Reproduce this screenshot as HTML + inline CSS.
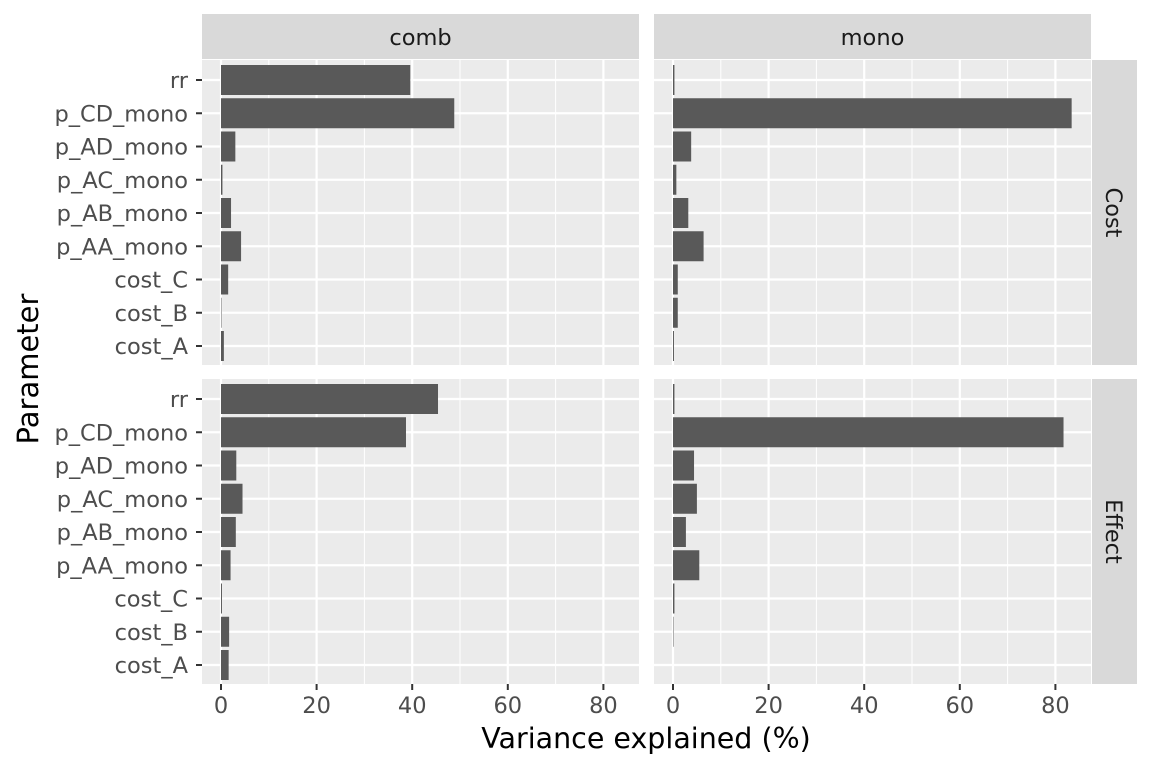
<!DOCTYPE html>
<html><head><meta charset="utf-8"><style>body{margin:0;background:#fff}svg{font-family:"DejaVu Sans","Liberation Sans",sans-serif}</style></head>
<body>
<svg id="c" width="1152" height="768" xmlns="http://www.w3.org/2000/svg"></svg>
<script>
const categories=["rr","p_CD_mono","p_AD_mono","p_AC_mono","p_AB_mono","p_AA_mono","cost_C","cost_B","cost_A"];
const colFacets=["comb","mono"];
const rowFacets=["Cost","Effect"];
const combCost=[39.6,48.8,3.0,0.3,2.1,4.2,1.5,0.1,0.6];
const monoCost=[0.3,83.4,3.8,0.7,3.2,6.4,1.0,1.0,0.2];
const combEffect=[45.4,38.7,3.2,4.5,3.1,2.0,0.2,1.7,1.6];
const monoEffect=[0.3,81.7,4.4,5.0,2.7,5.5,0.3,0.1,0.0];
const xTicks=[0,20,40,60,80];
const data=[[combCost,monoCost],[combEffect,monoEffect]];
const NS="http://www.w3.org/2000/svg",svg=document.getElementById('c');
function el(t,a,p){const e=document.createElementNS(NS,t);for(const k in a)e.setAttribute(k,a[k]);(p||svg).appendChild(e);return e;}
const panelX=[202,654],panelW=437,panelY=[60,379],panelH=305;
function xs(c,v){return panelX[c]+19+v*4.78;}
function ys(r,i){return panelY[r]+20+i*33.25;}
for(let c=0;c<2;c++){
 const s=el('rect',{x:panelX[c],y:14,width:panelW,height:45,fill:'#d9d9d9'});
 
 const t=el('text',{x:panelX[c]+panelW/2,y:45,'text-anchor':'middle','font-size':22.5,fill:'#1a1a1a'});t.textContent=colFacets[c];
 
 for(let r=0;r<2;r++){
  const p=el('rect',{x:panelX[c],y:panelY[r],width:panelW,height:panelH,fill:'#ebebeb'});
  
  for(let k=0;k<xTicks.length-1;k++){const m=(xTicks[k]+xTicks[k+1])/2;el('line',{x1:xs(c,m),x2:xs(c,m),y1:panelY[r],y2:panelY[r]+panelH,stroke:'#fff','stroke-width':1});}
  xTicks.forEach(v=>el('line',{x1:xs(c,v),x2:xs(c,v),y1:panelY[r],y2:panelY[r]+panelH,stroke:'#fff','stroke-width':2.2}));
  categories.forEach((n,i)=>el('line',{x1:panelX[c],x2:panelX[c]+panelW,y1:ys(r,i),y2:ys(r,i),stroke:'#fff','stroke-width':2.2}));
  data[r][c].forEach((v,i)=>{const b=el('rect',{x:xs(c,0),y:ys(r,i)-15,width:Math.max(0,xs(c,v)-xs(c,0)),height:30,fill:'#595959'});
   });
 }
 xTicks.forEach(v=>{el('line',{x1:xs(c,v),x2:xs(c,v),y1:684,y2:690,stroke:'#333','stroke-width':2});
  const t=el('text',{x:xs(c,v),y:713,'text-anchor':'middle','font-size':22.5,fill:'#4d4d4d'});t.textContent=v;
  });
}
for(let r=0;r<2;r++){
 const s=el('rect',{x:1092,y:panelY[r],width:45,height:panelH,fill:'#d9d9d9'});
 
 const cy=panelY[r]+panelH/2;
 const t=el('text',{x:1106,y:cy,'text-anchor':'middle','font-size':22.5,fill:'#1a1a1a',transform:`rotate(90 1106 ${cy})`});t.textContent=rowFacets[r];
 
 categories.forEach((n,i)=>{el('line',{x1:196,x2:202,y1:ys(r,i),y2:ys(r,i),stroke:'#333','stroke-width':2});
  const t=el('text',{x:188,y:ys(r,i)+8,'text-anchor':'end','font-size':22.5,fill:'#4d4d4d'});t.textContent=n;
  });
}
const xt=el('text',{x:646,y:748,'text-anchor':'middle','font-size':28.5,fill:'#000'});xt.textContent='Variance explained (%)';

const yt=el('text',{x:38,y:369,'text-anchor':'middle','font-size':29,fill:'#000',transform:'rotate(-90 38 369)'});yt.textContent='Parameter';

</script>
</body></html>
